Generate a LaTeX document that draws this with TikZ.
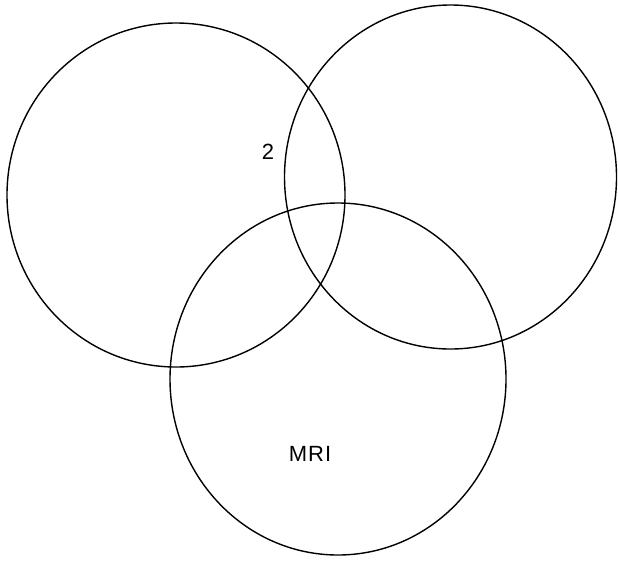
\documentclass[tikz,border=0pt]{standalone}
\usepackage{fontspec}
\setmainfont{Liberation Sans}
\begin{document}
\begin{tikzpicture}[x=1pt,y=-1pt,line width=1.4pt]
    \useasboundingbox (0,0) rectangle (618,560);
    % kružnice
    \draw (176,195) ellipse [x radius=169, y radius=172];
    \draw (450.5,177) ellipse [x radius=166, y radius=172];
    \draw (338,379) ellipse [x radius=168, y radius=176];

    % popisky
    \node[font=\fontsize{22}{24}\selectfont] (dva) at (268,152) {2};
    \node[font=\fontsize{22}{24}\selectfont] (mri) at (310,454) {M\kern1pt R\kern1pt I};
\end{tikzpicture}
\end{document}
